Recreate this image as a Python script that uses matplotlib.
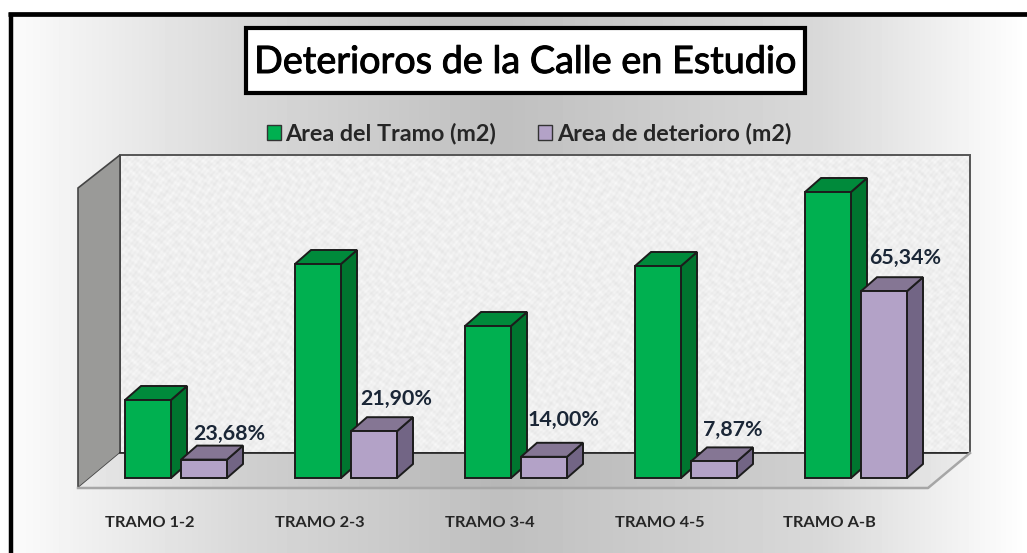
#!/usr/bin/env python3

import numpy as np
import matplotlib
matplotlib.use('Agg')
import matplotlib.pyplot as plt
import matplotlib.patheffects as pe
from matplotlib.patches import Polygon, Rectangle
from matplotlib.colors import LinearSegmentedColormap

# values (m2, scale is my estimate, only ratios are visible)
tramos = ['TRAMO 1-2', 'TRAMO 2-3', 'TRAMO 3-4', 'TRAMO 4-5', 'TRAMO A-B']
area_tramo = [390, 1070, 760, 1060, 1430]
area_deterioro = [92, 234, 106, 83, 934]
etiquetas = ['23,68%', '21,90%', '14,00%', '7,87%', '65,34%']
series = ['Area del Tramo (m2)', 'Area de deterioro (m2)']

W, H = 1027, 553
plt.rcParams['font.family'] = ['Lato', 'DejaVu Sans']

fig = plt.figure(figsize=(W / 100, H / 100), dpi=100)
fig.patch.set_facecolor('white')

# background axes in pixels, y going down
bg = fig.add_axes([0, 0, 1, 1])
bg.set_xlim(0, W)
bg.set_ylim(H, 0)
bg.axis('off')
cm = LinearSegmentedColormap.from_list('g', ['black', 'white'])

# chart gradient, horizontal with the darkest part near the middle
xs = np.arange(W)
grad_x = [0, 20, 240, 500, 820, 1000, 1027]
grad_v = [1.0, 0.98, 0.85, 0.75, 0.85, 0.98, 1.0]
grad = np.interp(xs, grad_x, grad_v).reshape(1, -1)
bg.imshow(grad, extent=(0, W, H, 13), cmap=cm, vmin=0, vmax=1, aspect='auto', zorder=0)

# frame, top and left only
bg.plot([10.5, 10.5], [H, 13], color='black', lw=3.2, solid_capstyle='butt', zorder=9)
bg.plot([8, W], [13.5, 13.5], color='black', lw=3.4, solid_capstyle='butt', zorder=9)

# back wall with mottled look
xw, yw = np.meshgrid(np.arange(850), np.arange(298))
tex = (np.sin(xw * 0.53 + 2.1 * np.sin(yw * 0.17) + 1.7 * np.sin(xw * 0.071))
       + np.sin(yw * 0.61 + 2.3 * np.sin(xw * 0.13) + 1.3 * np.sin(yw * 0.047))
       + np.sin((xw * 0.83 - yw * 0.97) + 1.9 * np.sin(xw * 0.029 + yw * 0.037))
       + np.sin(xw * 1.31 + yw * 1.07 + 2.7 * np.sin(yw * 0.091)))
tex = 0.935 + tex * 0.009
bg.imshow(tex, extent=(120, 970, 453, 155), cmap=cm, vmin=0, vmax=1, aspect='auto', zorder=1)
bg.add_patch(Rectangle((120, 155), 850, 298, fill=False, ec='#555555', lw=1.4, zorder=2))

# left wall
bg.add_patch(Polygon([(78, 188), (120, 155), (120, 453), (78, 488)], fc='#9a9a98', ec='#444444', lw=1.2, zorder=2))

# floor, follows the background but a bit darker
floor = Polygon([(78, 488), (120, 453), (970, 453), (928, 488)], fc='none', ec='none', zorder=2)
bg.add_patch(floor)
im = bg.imshow(grad - 0.035, extent=(0, W, 488, 453), cmap=cm, vmin=0, vmax=1, aspect='auto', zorder=2)
im.set_clip_path(floor)
bg.plot([120, 970], [453, 453], color='#222222', lw=1.2, zorder=3)
bg.plot([970, 928, 78], [453, 488, 488], color='#a6a6a6', lw=1.8, zorder=3)

bg.set_xlim(0, W)
bg.set_ylim(H, 0)

# data axes, same rectangle, origin where the bars stand
ax = fig.add_axes([0, 0, 1, 1])
ax.patch.set_alpha(0)
ax.axis('off')
px_x = 170.0
px_y = 0.2
ax.set_xlim(-176 / px_x, (W - 176) / px_x)
ax.set_ylim((478 - H) / px_y, 478 / px_y)

dx = 16 / px_x
dy = 14 / px_y
bw = 46 / px_x
edge = '#1c1c1c'


def bar3d(x0, h, front, side, top):
    x1 = x0 + bw
    ax.add_patch(Polygon([(x1, 0), (x1 + dx, dy), (x1 + dx, h + dy), (x1, h)], fc=side, ec=edge, lw=1.4))
    ax.add_patch(Polygon([(x0, h), (x0 + dx, h + dy), (x1 + dx, h + dy), (x1, h)], fc=top, ec=edge, lw=1.4))
    ax.add_patch(Rectangle((x0, 0), bw, h, fc=front, ec=edge, lw=1.4))


lab_dx = [25, 22, 20, 19, 21]
lab_dy = [26, 32, 37, 31, 33]
for i, tr in enumerate(tramos):
    bar3d(i - 51 / px_x, area_tramo[i], '#00B050', '#00752F', '#008A3B')
    bar3d(i + 5 / px_x, area_deterioro[i], '#B3A2C7', '#726585', '#857694')
    ax.annotate(etiquetas[i], (i + 28 / px_x, area_deterioro[i]),
                xytext=(lab_dx[i] * 0.72, lab_dy[i] * 0.72), textcoords='offset points',
                ha='center', va='center', fontsize=15.4, fontweight='bold', color='#1a2636')
    ax.annotate(tr, (i, 0), xytext=(-26.5 * 0.72, -45 * 0.72), textcoords='offset points',
                ha='center', va='center', fontsize=11.8, fontweight='bold', color='#262626')

# title box
bg.add_patch(Rectangle((246, 28), 559, 65, fc='white', ec='black', lw=3.0, zorder=5))
title = bg.text(525, 62, 'Deterioros de la Calle en Estudio', ha='center', va='center',
                fontsize=27.2, color='black', zorder=6)
title.set_path_effects([pe.withStroke(linewidth=0.7, foreground='black')])

# legend
bg.add_patch(Rectangle((267, 125), 14, 15, fc='#00B050', ec='#333333', lw=1, zorder=5))
bg.text(285, 133, series[0], ha='left', va='center', fontsize=16.8, fontweight='bold', color='#262626', zorder=6)
bg.add_patch(Rectangle((538, 125), 14, 15, fc='#B3A2C7', ec='#333333', lw=1, zorder=5))
bg.text(557, 133, series[1], ha='left', va='center', fontsize=16.8, fontweight='bold', color='#262626', zorder=6)

fig.savefig('out.png', dpi=100)
